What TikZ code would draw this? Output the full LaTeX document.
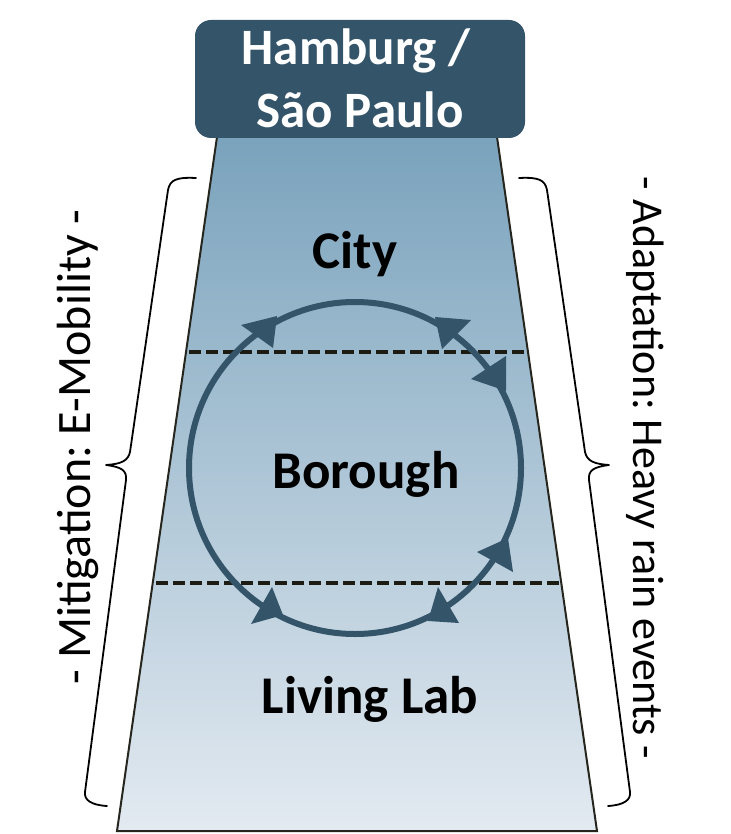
\documentclass[tikz,border=0pt]{standalone}
\usepackage{fontspec}
\setmainfont{Carlito}
\frenchspacing
\definecolor{slate}{HTML}{34546A}
\definecolor{trapTop}{HTML}{79A2BC}
\definecolor{trapBot}{HTML}{E3EAF1}
\definecolor{edge}{HTML}{26261E}
\definecolor{dashc}{HTML}{1C1C12}
\tikzset{
  titlebox/.style={draw=none,fill=slate,rounded corners=16pt,minimum width=330pt,minimum height=118pt,inner sep=0pt},
  titletext/.style={text=white,font=\fontsize{51}{60}\selectfont\bfseries,anchor=base,inner sep=0pt},
  levellab/.style={text=black,font=\fontsize{53}{60}\selectfont\bfseries,anchor=base,inner sep=0pt},
  sidelab/.style={text=black,inner sep=0pt},
  levelline/.style={draw=dashc,line width=3.6pt,dash pattern=on 12pt off 5pt},
  bracepath/.style={draw=black,line width=1.8pt,line cap=round,line join=round},
  cyclearrow/.style={fill=slate}
}
\begin{document}
\begin{tikzpicture}[x=1pt,y=-1pt]
\useasboundingbox (0,0) rectangle (730,834);
% funnel
\coordinate (tl) at (218,130);
\coordinate (tr) at (496,130);
\coordinate (bl) at (117,831);
\coordinate (br) at (597,831);
\shade[top color=trapTop,bottom color=trapBot,draw=edge,line width=2pt,line join=miter]
  (tl) -- (bl) -- (br) -- (tr) -- cycle;
% level separators
\coordinate (u1) at (189,352);
\coordinate (u2) at (526,352);
\coordinate (d1) at (156,583);
\coordinate (d2) at (559,583);
\draw[levelline] (u1) -- (u2);
\draw[levelline] (d1) -- (d2);
% cycle
\coordinate (cc) at (355,468);
\draw[slate,line width=6pt] (cc) circle[radius=166pt];
\fill[cyclearrow] (241,325) -- (277,316) -- (273,348) -- cycle;
\fill[cyclearrow] (435,317) -- (471,320) -- (442,349) -- cycle;
\fill[cyclearrow] (506,356) -- (471,379) -- (506,391) -- cycle;
\fill[cyclearrow] (477,552) -- (508,538) -- (513,572) -- cycle;
\fill[cyclearrow] (438,587) -- (428,621) -- (459,623) -- cycle;
\fill[cyclearrow] (272,587) -- (251,624) -- (283,615) -- cycle;
% title
\node[titlebox] (title) at (360,79) {};
\node[titletext] (t1) at (356,65) {Hamburg /};
\node[titletext] (t2) at (360,128) {São Paulo};
% levels
\node[levellab] (city) at (355,268) {City};
\node[levellab] (borough) at (366,488) {Borough};
\node[levellab] (lab) at (370,713) {Living Lab};
% braces
\draw[bracepath] (196,178) .. controls (176,177) and (170,180) .. (168,190)
  -- (130,452) .. controls (128,461) and (121,464) .. (106,465)
  .. controls (121,467) and (127,470) .. (126,480)
  -- (85,792) .. controls (84,800) and (91,805) .. (107,806);
\draw[bracepath] (519,178) .. controls (539,177) and (545,180) .. (547,190)
  -- (585,452) .. controls (587,461) and (594,464) .. (609,465)
  .. controls (594,467) and (588,470) .. (589,480)
  -- (630,792) .. controls (631,800) and (624,805) .. (608,806);
\node[sidelab,rotate=90,font=\fontsize{48}{55}\selectfont] (mit) at (78,447) {- Mitigation: E-Mobility -};
\node[sidelab,rotate=-90,font=\fontsize{44}{55}\selectfont] (ada) at (645,468) {- Adaptation: Heavy rain events -};
\end{tikzpicture}
\end{document}
